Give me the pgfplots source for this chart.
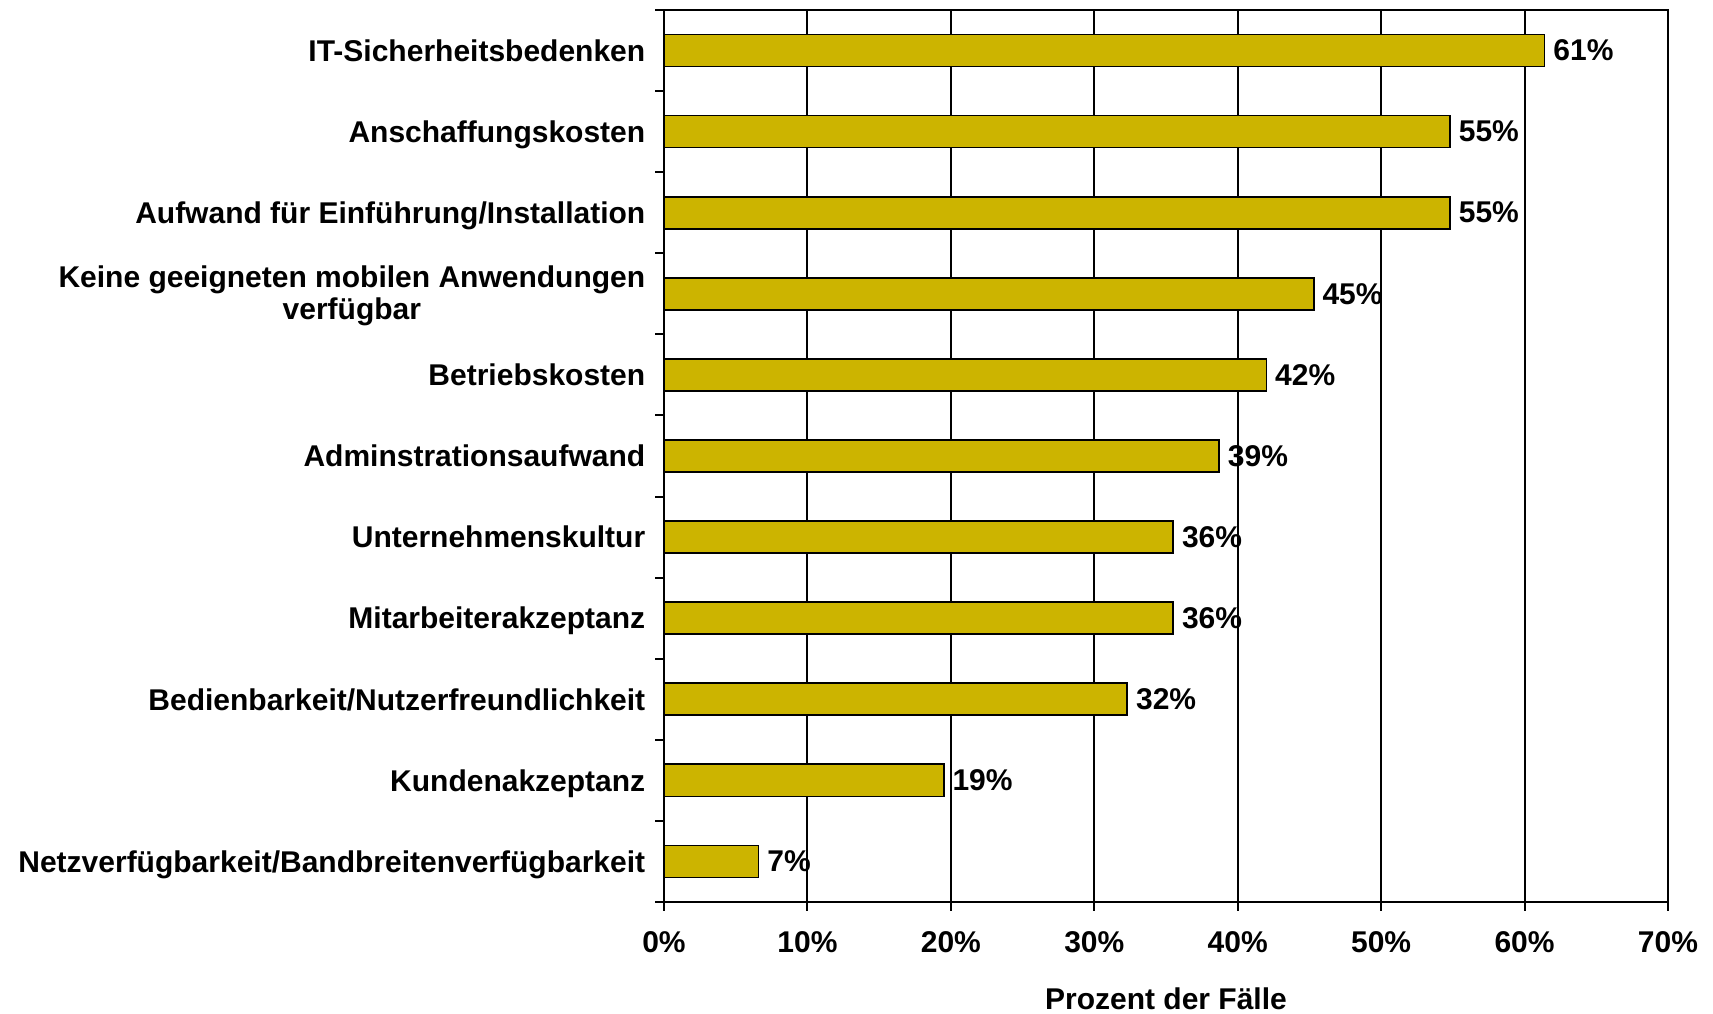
\documentclass[border=0pt]{standalone}
\usepackage{fontspec}
\setmainfont{Liberation Sans}
\usepackage{pgfplots}
\pgfplotsset{compat=1.18}
\definecolor{barcol}{RGB}{204,180,0}
\begin{document}
\begin{tikzpicture}
\useasboundingbox (0,0) rectangle (513.9pt,304.2pt);
\begin{axis}[
  at={(199.2pt,33.6pt)}, anchor=south west,
  scale only axis, width=301.2pt, height=267.6pt,
  xbar, bar width=0.395,
  xmin=0, xmax=70, ymin=-0.5, ymax=10.5,
  xtick={0,10,...,70},
  xticklabel={\pgfmathprintnumber{\tick}\%},
  /pgf/number format/assume math mode=true,
  ytick={-0.5,0.5,...,10.5},
  yticklabels={
    Netzverfügbarkeit/Bandbreitenverfügbarkeit,
    Kundenakzeptanz,
    Bedienbarkeit/Nutzerfreundlichkeit,
    Mitarbeiterakzeptanz,
    Unternehmenskultur,
    Adminstrationsaufwand,
    Betriebskosten,
    {\fontsize{9}{9.8}\selectfont\begin{tabular}[c]{@{}c@{}}Keine geeigneten mobilen Anwendungen\\verfügbar\end{tabular}},
    Aufwand für Einführung/Installation,
    Anschaffungskosten,
    IT-Sicherheitsbedenken,
    {}},
  xtick pos=bottom, ytick pos=left,
  tick align=outside,
  major tick length=2.7pt,
  tick style={black, line width=0.6pt},
  xmajorgrids,
  grid style={black, line width=0.6pt},
  axis line style={black, line width=0.7pt},
  every tick label/.append style={font=\fontsize{9}{12}\selectfont\bfseries},
  yticklabel style={anchor=base east, yshift=8.94pt, xshift=0.6pt},
  xticklabel style={yshift=-2.7pt},
  xlabel={Prozent der Fälle},
  xlabel style={font=\fontsize{9}{12}\selectfont\bfseries, at={(axis description cs:0.5,0)}, anchor=base, yshift=-32.2pt},
  point meta=explicit symbolic,
  nodes near coords,
  nodes near coords style={font=\fontsize{9}{12}\selectfont\bfseries, anchor=west, inner sep=0pt, xshift=2.4pt},
]
\addplot[fill=barcol, draw=black, line width=0.5pt] coordinates {
  (6.6,0) [7\%]
  (19.5,1) [19\%]
  (32.3,2) [32\%]
  (35.5,3) [36\%]
  (35.5,4) [36\%]
  (38.7,5) [39\%]
  (42.0,6) [42\%]
  (45.3,7) [45\%]
  (54.8,8) [55\%]
  (54.8,9) [55\%]
  (61.4,10) [61\%]
};
\end{axis}
\end{tikzpicture}
\end{document}
